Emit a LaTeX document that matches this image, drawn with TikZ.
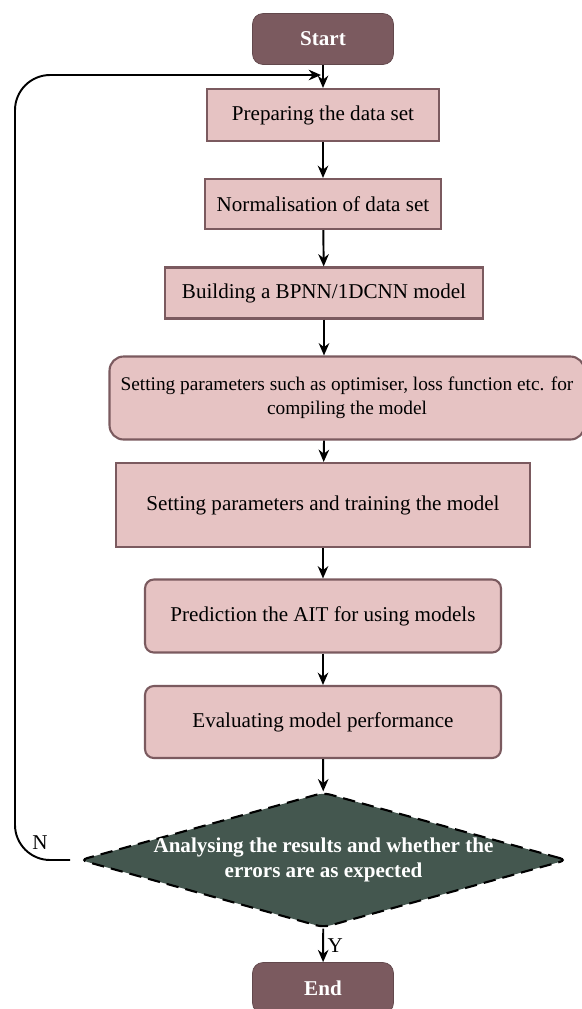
\documentclass[tikz,border=0pt]{standalone}
\usepackage{fontspec}
\setmainfont{Liberation Serif}
\usetikzlibrary{arrows.meta,shapes.geometric}
\definecolor{plum}{HTML}{7B5A5F}
\definecolor{blush}{HTML}{E6C3C3}
\definecolor{slate}{HTML}{44574F}
\begin{document}
\begin{tikzpicture}
[x=0.02cm,y=-0.02cm,
terminal/.style={rectangle,rounded corners=6pt,draw=plum!80!black,fill=plum,text=white,font=\fontsize{12}{14}\selectfont\bfseries,minimum width=2.82cm,minimum height=1.02cm},
process/.style={rectangle,draw=plum,line width=1.2pt,fill=blush,font=\fontsize{12}{14}\selectfont,align=center,inner sep=2pt},
decision/.style={diamond,aspect=3.6,draw=black,dash pattern=on 7pt off 4pt,line width=1.2pt,rounded corners=4pt,fill=slate,text=white,font=\fontsize{12}{14}\selectfont\bfseries,align=center,inner xsep=-0.1cm,inner ysep=0pt},
line/.style={draw,line width=1.1pt,-{Stealth[length=7pt,width=6pt]}}
]
\useasboundingbox (0,0) rectangle (582,1009);
\node[terminal] (start) at (323,39) {Start};
\node[process,minimum width=4.64cm,minimum height=1.04cm] (prep) at (323,115) {Preparing the data set};
\node[process,minimum width=4.72cm,minimum height=1.0cm] (norm) at (323,204) {Normalisation of data set};
\node[process,minimum width=6.36cm,minimum height=1.02cm] (build) at (324,293) {Building a BPNN/1DCNN model};
\node[process,rounded corners=8pt,minimum width=9.5cm,minimum height=1.66cm,font=\fontsize{11}{13.5}\selectfont] (comp) at (347,398) {Setting parameters such as optimiser, loss function etc. for\\compiling the model};
\node[process,minimum width=8.28cm,minimum height=1.68cm] (train) at (323,505) {Setting parameters and training the model};
\node[process,rounded corners=5pt,minimum width=7.12cm,minimum height=1.46cm] (pred) at (323,616) {Prediction the AIT for using models};
\node[process,rounded corners=5pt,minimum width=7.12cm,minimum height=1.44cm] (eval) at (323,722) {Evaluating model performance};
\node[decision] (check) at (323.5,860) {Analysing the results and whether the\\errors are as expected};
\node[terminal] (end) at (323,988) {End};
\coordinate (loopin) at (321,75);
\coordinate (loopout) at (70,860);

\path[line] (start) -- (prep);
\path[line] (prep) -- (norm);
\path[line] (norm) -- (build);
\path[line] (build) -- (comp.north -| build.south);
\path[line] (comp.south -| build.south) -- (train);
\path[line] (train) -- (pred);
\path[line] (pred) -- (eval);
\path[line] (eval) -- (check);
\path[line] (check) -- node[right,font=\fontsize{12}{14}\selectfont,inner sep=2pt] {Y} (end);
\path[line,rounded corners=20pt] (loopout) -- (15,860) -- (15,75) -- (loopin);
\node[font=\fontsize{12}{14}\selectfont] (nlabel) at (40,843) {N};
\end{tikzpicture}
\end{document}
